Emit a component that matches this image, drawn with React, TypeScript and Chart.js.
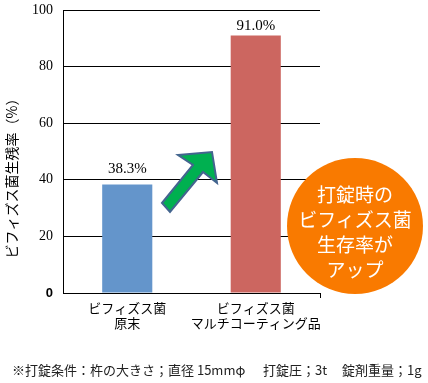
import React, { useEffect, useRef } from "react";
import { Chart, registerables } from "chart.js";

Chart.register(...registerables);

const categories: string[][] = [
  ["ビフィズス菌", "原末"],
  ["ビフィズス菌", "マルチコーティング品"],
];
const survivalRates: number[] = [38.3, 91.0];
const valueLabels: string[] = ["38.3%", "91.0%"];
const barColors: string[] = ["#6495CB", "#CC6660"];
const yTitle = "ビフィズス菌生残率（%）";
const calloutLines: string[] = ["打錠時の", "ビフィズス菌", "生存率が", "アップ"];
const footnoteParts: string[] = ["※打錠条件：杵の大きさ；直径 15mmφ", "打錠圧；3t", "錠剤重量；1g"];

const JP = '"Noto Sans CJK JP", "Noto Sans", sans-serif';

export default function App() {
  const canvasRef = useRef<HTMLCanvasElement | null>(null);

  useEffect(() => {
    const canvas = canvasRef.current;
    if (!canvas) return;

    const labelPlugin = {
      id: "valueLabels",
      afterDatasetsDraw(chart: any) {
        const ctx = chart.ctx;
        const meta = chart.getDatasetMeta(0);
        const offsets = [12, 5];
        ctx.save();
        ctx.font = '15px "Liberation Serif", serif';
        ctx.fillStyle = "#000";
        ctx.textAlign = "center";
        ctx.textBaseline = "alphabetic";
        meta.data.forEach((bar: any, i: number) => {
          ctx.fillText(valueLabels[i], bar.x, bar.y - offsets[i]);
        });
        ctx.restore();
      },
      afterDraw(chart: any) {
        const ctx = chart.ctx;
        const area = chart.chartArea;
        ctx.save();
        ctx.strokeStyle = "#000";
        ctx.lineWidth = 1;
        ctx.beginPath();
        ctx.moveTo(Math.round(area.right) + 0.5, area.bottom);
        ctx.lineTo(Math.round(area.right) + 0.5, area.bottom + 5);
        ctx.stroke();
        ctx.translate(11.5, 175);
        ctx.rotate(-Math.PI / 2);
        ctx.font = "14px " + JP;
        ctx.fillStyle = "#000";
        ctx.textAlign = "center";
        ctx.textBaseline = "middle";
        ctx.fillText(yTitle, 0, 0);
        ctx.restore();
      },
    };

    const chart = new Chart(canvas, {
      type: "bar",
      data: {
        labels: categories,
        datasets: [
          {
            data: survivalRates,
            backgroundColor: barColors,
            borderWidth: 0,
            barPercentage: 0.39,
            categoryPercentage: 1,
          },
        ],
      },
      options: {
        responsive: false,
        animation: false,
        layout: { padding: { left: 0, top: 10, right: 108, bottom: 50 } },
        plugins: {
          legend: { display: false },
          tooltip: { enabled: false },
        },
        scales: {
          y: {
            min: 0,
            max: 100,
            ticks: {
              stepSize: 20,
              color: "#000",
              padding: 10,
              font: (c: any) =>
                c.tick && c.tick.value === 0
                  ? { family: '"Liberation Sans", sans-serif', size: 13, weight: "bold" }
                  : { family: '"Liberation Serif", serif', size: 14 },
            },
            grid: { color: "#000", lineWidth: 1, drawTicks: false },
            border: { color: "#000", width: 1 },
            afterFit: (s: any) => {
              s.width = 63;
              s.paddingTop = 0;
              s.paddingBottom = 0;
            },
          },
          x: {
            ticks: {
              color: "#000",
              padding: 8,
              maxRotation: 0,
              minRotation: 0,
              autoSkip: false,
              font: { family: JP, size: 13, lineHeight: 1.15 },
            },
            grid: { display: false, drawTicks: false },
            border: { color: "#000", width: 1 },
            afterFit: (s: any) => {
              s.height = 40;
              s.paddingLeft = 0;
              s.paddingRight = 0;
            },
          },
        },
      },
      plugins: [labelPlugin],
    });

    return () => chart.destroy();
  }, []);

  return (
    <div style={{ position: "absolute", left: 0, top: 0, width: 428, height: 383, background: "#fff", overflow: "hidden" }}>
      <canvas ref={canvasRef} width={428} height={383} style={{ position: "absolute", left: 0, top: 0 }} />
      <svg width={428} height={383} style={{ position: "absolute", left: 0, top: 0 }}>
        <polygon
          points="162,203 193,165 178,155 212,152 217,183 203,172 170,212"
          fill="#00B050"
          stroke="#44648F"
          strokeWidth={2}
          strokeLinejoin="miter"
        />
      </svg>
      <div
        style={{
          position: "absolute",
          left: 287,
          top: 158,
          width: 136,
          height: 136,
          borderRadius: "50%",
          background: "#F97A00",
        }}
      />
      <div
        style={{
          position: "absolute",
          left: 287,
          top: 180.5,
          width: 136,
          textAlign: "center",
          color: "#fff",
          fontFamily: JP,
          fontSize: 19,
          lineHeight: "25px",
          whiteSpace: "nowrap",
        }}
      >
        {calloutLines.map((t, i) => (
          <div key={i}>{t}</div>
        ))}
      </div>
      {footnoteParts.map((t, i) => (
        <div
          key={i}
          style={{
            position: "absolute",
            left: [12, 263, 342][i],
            top: 361,
            fontFamily: JP,
            fontSize: 13,
            lineHeight: "18px",
            color: "#222",
            whiteSpace: "nowrap",
          }}
        >
          {t}
        </div>
      ))}
    </div>
  );
}
